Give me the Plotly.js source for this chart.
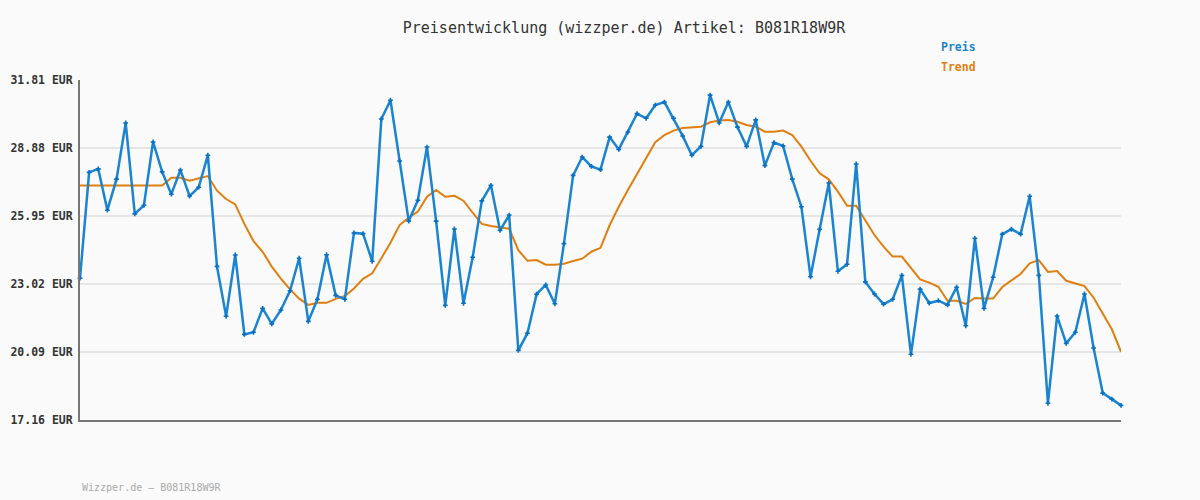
<!DOCTYPE html>
<html>
<head>
<meta charset="utf-8">
<script src="https://cdn.plot.ly/plotly-3.0.1.min.js"></script>
<style>html,body{margin:0;padding:0;background:#fafafa;}#chart{width:1200px;height:500px;}</style>
</head>
<body>
<div id="chart"></div>
<script>
const titleText = "Preisentwicklung (wizzper.de) Artikel: B081R18W9R";
const footerText = "Wizzper.de \u2013 B081R18W9R";
const seriesNames = ["Preis", "Trend"];
const tickValues = [17.16, 20.09, 23.02, 25.95, 28.88, 31.81];
const tickLabels = ["17.16 EUR", "20.09 EUR", "23.02 EUR", "25.95 EUR", "28.88 EUR", "31.81 EUR"];

const preis = [
  23.27, 27.83, 27.98, 26.20, 27.54, 29.96, 26.04, 26.41, 29.14, 27.85,
  26.89, 27.93, 26.81, 27.19, 28.57, 23.78, 21.63, 24.27, 20.85, 20.94,
  21.97, 21.30, 21.90, 22.73, 24.13, 21.41, 22.36, 24.28, 22.53, 22.36,
  25.22, 25.19, 24.00, 30.13, 30.94, 28.32, 25.73, 26.63, 28.92, 25.73,
  22.10, 25.39, 22.19, 24.17, 26.60, 27.27, 25.33, 25.99, 20.16, 20.90,
  22.58, 22.98, 22.17, 24.76, 27.70, 28.49, 28.09, 27.95, 29.35, 28.82,
  29.57, 30.36, 30.16, 30.73, 30.86, 30.16, 29.40, 28.57, 28.95, 31.16,
  29.96, 30.86, 29.78, 28.95, 30.09, 28.12, 29.11, 28.97, 27.54, 26.35,
  23.33, 25.38, 27.37, 23.57, 23.87, 28.19, 23.11, 22.59, 22.15, 22.36,
  23.39, 19.99, 22.80, 22.20, 22.30, 22.12, 22.88, 21.22, 24.99, 21.97,
  23.31, 25.17, 25.38, 25.17, 26.80, 23.39, 17.88, 21.64, 20.46, 20.94,
  22.59, 20.26, 18.32, 18.06, 17.79
];

const trend = [
  27.26, 27.26, 27.26, 27.26, 27.26, 27.26, 27.26, 27.26, 27.26, 27.26,
  27.60, 27.60, 27.47, 27.57, 27.67, 27.04, 26.68, 26.45, 25.61, 24.87,
  24.41, 23.77, 23.25, 22.79, 22.39, 22.12, 22.21, 22.21, 22.38, 22.50,
  22.83, 23.24, 23.48, 24.13, 24.80, 25.56, 25.88, 26.14, 26.78, 27.07,
  26.78, 26.82, 26.61, 26.09, 25.61, 25.52, 25.46, 25.40, 24.48, 24.02,
  24.05, 23.85, 23.85, 23.89, 24.01, 24.11, 24.41, 24.58, 25.55, 26.35,
  27.07, 27.76, 28.48, 29.13, 29.44, 29.63, 29.74, 29.78, 29.80, 29.99,
  30.06, 30.09, 30.01, 29.87, 29.80, 29.58, 29.58, 29.63, 29.44, 28.94,
  28.33, 27.79, 27.53, 27.00, 26.39, 26.39, 25.78, 25.13, 24.63, 24.20,
  24.20, 23.70, 23.22, 23.08, 22.90, 22.30, 22.30, 22.16, 22.42, 22.39,
  22.39, 22.89, 23.16, 23.45, 23.91, 24.05, 23.54, 23.58, 23.16, 23.03,
  22.93, 22.43, 21.76, 21.07, 20.10
];

const xs = preis.map((_, i) => i);
const blue = "#1a84d0";
const orange = "#e07f10";
const mono = "DejaVu Sans Mono, monospace";

const traces = [
  {
    x: xs, y: trend, name: seriesNames[1], type: "scatter", mode: "lines",
    line: {color: orange, width: 2}, cliponaxis: false, hoverinfo: "skip"
  },
  {
    x: xs, y: preis, name: seriesNames[0], type: "scatter", mode: "lines+markers",
    line: {color: blue, width: 2.5},
    marker: {symbol: "cross", size: 4, color: "#0a70c0"},
    cliponaxis: false
  }
];

const layout = {
  width: 1200, height: 500,
  paper_bgcolor: "#fafafa", plot_bgcolor: "#fafafa",
  margin: {l: 80, r: 79, t: 80, b: 80, pad: 0},
  showlegend: false,
  title: {
    text: titleText,
    font: {family: mono, size: 15, color: "#333"},
    xref: "container", x: 624/1200, xanchor: "center",
    yref: "container", y: 1 - 28/500, yanchor: "middle"
  },
  xaxis: {
    range: [0, preis.length - 1], showticklabels: false, ticks: "",
    showgrid: false, zeroline: false,
    showline: true, linecolor: "#777", linewidth: 2
  },
  yaxis: {
    range: [tickValues[0], tickValues[tickValues.length - 1]],
    tickvals: tickValues, ticktext: tickLabels,
    tickfont: {family: mono, size: 11.5, color: "#333", weight: "bold"},
    ticks: "outside", ticklen: 3, tickcolor: "rgba(0,0,0,0)",
    showgrid: true, gridcolor: "#e6e6e6", gridwidth: 2,
    zeroline: false, showline: true, linecolor: "#777", linewidth: 2
  },
  annotations: [
    {text: "<b>" + seriesNames[0] + "</b>", xref: "paper", yref: "paper",
     x: (939 - 80) / 1041, y: (420 - 47) / 340, xanchor: "left", yanchor: "middle",
     showarrow: false, font: {family: mono, size: 11.5, color: blue}},
    {text: "<b>" + seriesNames[1] + "</b>", xref: "paper", yref: "paper",
     x: (939 - 80) / 1041, y: (420 - 67) / 340, xanchor: "left", yanchor: "middle",
     showarrow: false, font: {family: mono, size: 11.5, color: orange}},
    {text: footerText, xref: "paper", yref: "paper",
     x: 0, y: (420 - 487) / 340, xanchor: "left", yanchor: "middle",
     showarrow: false, font: {family: mono, size: 10, color: "#aaa"}}
  ]
};

Plotly.newPlot("chart", traces, layout, {displayModeBar: false, staticPlot: true});
</script>
</body>
</html>
